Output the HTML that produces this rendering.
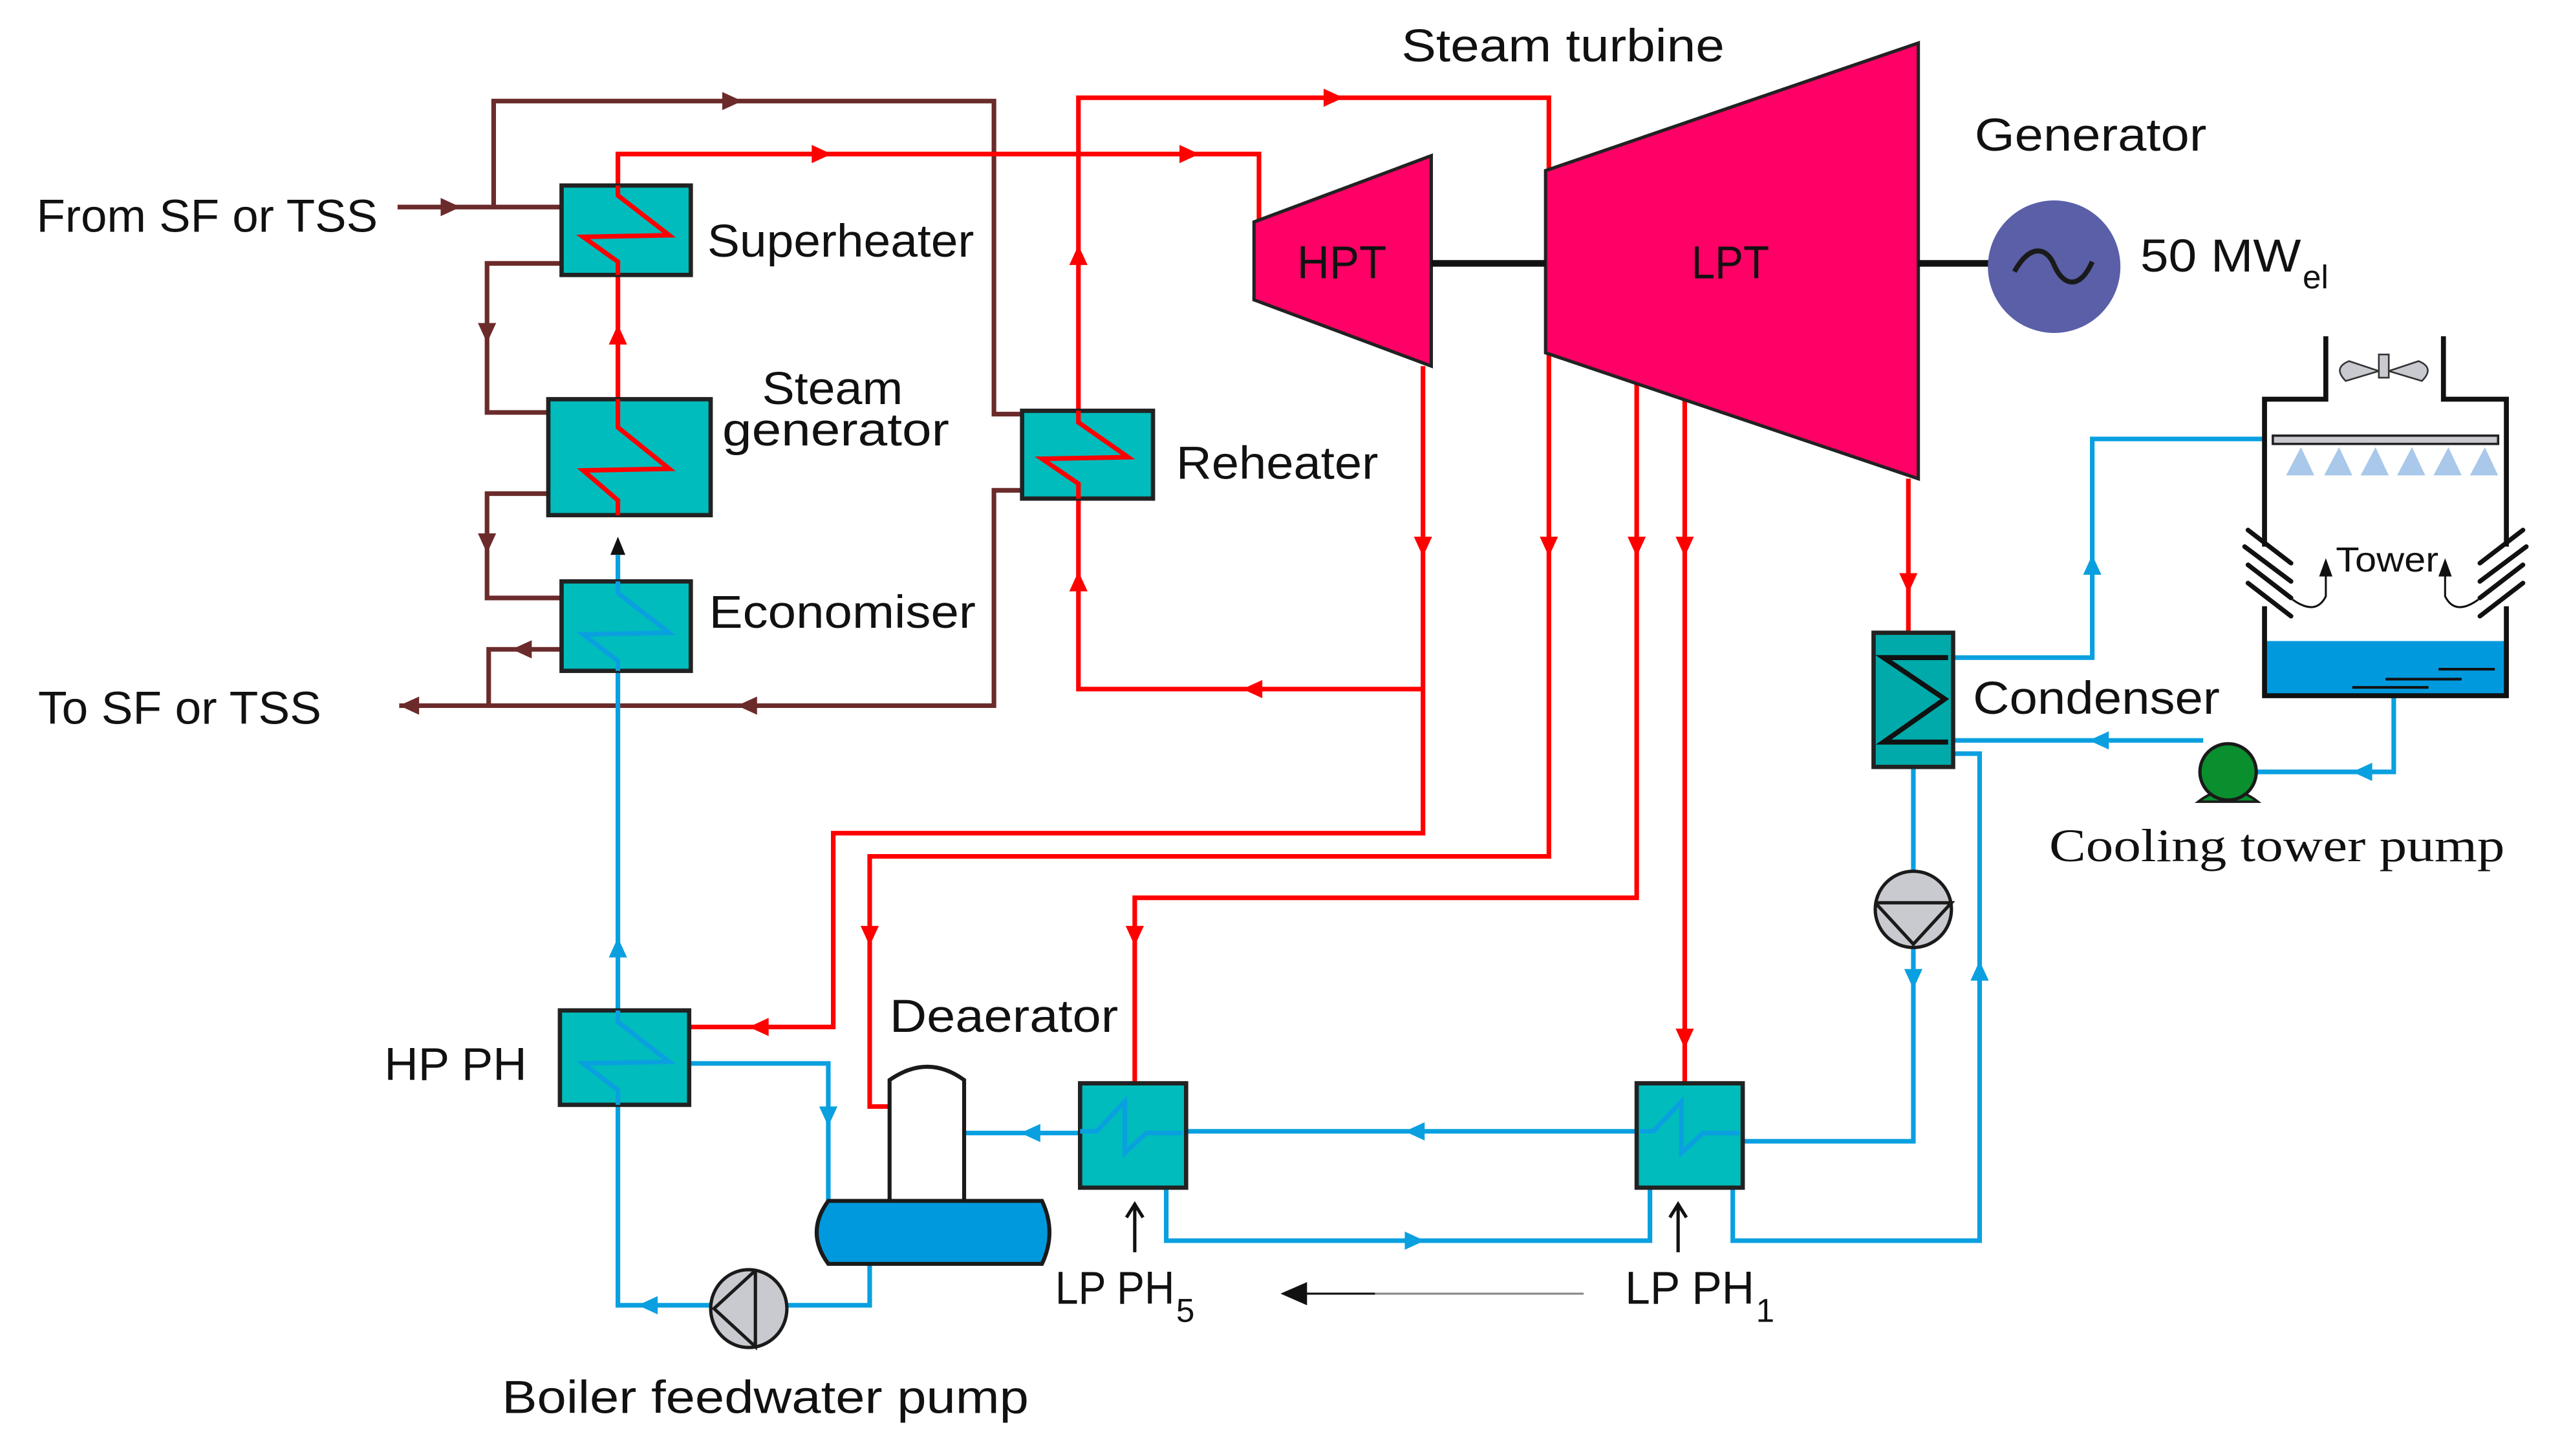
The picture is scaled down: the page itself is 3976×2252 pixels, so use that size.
<!DOCTYPE html>
<html><head><meta charset="utf-8"><style>
html,body{margin:0;padding:0;background:#fff;}
svg{display:block;}
text{font-family:"Liberation Sans",sans-serif;fill:#111;}
</style></head><body>
<svg width="3976" height="2252" viewBox="0 0 1552 879" preserveAspectRatio="none" xmlns="http://www.w3.org/2000/svg">
<defs>
<path id="ar" d="M0,0 L-12,-5.5 L-12,5.5 Z"/>
</defs>
<rect width="1552" height="879" fill="#fff"/>

<!-- BROWN lines -->
<g fill="none" stroke="#6b2b2b" stroke-width="2.8">
<polyline points="240,125 339,125"/>
<polyline points="298,125 298,61 600,61 600,250 617,250"/>
<polyline points="339,159 294,159 294,249 331,249"/>
<polyline points="331,298 294,298 294,361 339,361"/>
<polyline points="339,392 295,392 295,426"/>
<polyline points="617,296 600,296 600,426 241,426"/>
</g>
<g fill="#6b2b2b">
<use href="#ar" transform="translate(448,61)"/>
<use href="#ar" transform="translate(278,125)"/>
<use href="#ar" transform="translate(294,207) rotate(90)"/>
<use href="#ar" transform="translate(294,334) rotate(90)"/>
<use href="#ar" transform="translate(309,392) rotate(180)"/>
<use href="#ar" transform="translate(445,426) rotate(180)"/>
<use href="#ar" transform="translate(241,426) rotate(180)"/>
</g>

<!-- RED lines -->
<g fill="none" stroke="#ff0000" stroke-width="2.8">
<polyline points="373,112 373,93 760,93 760,134"/>
<polyline points="373,166 373,241"/>
<polyline points="651,248 651,59 935,59 935,517 525,517 525,668 537,668"/>
<polyline points="859,221 859,503 503,503 503,620 416,620"/>
<polyline points="859,416 651,416 651,301"/>
<polyline points="988,230 988,542 685,542 685,654"/>
<polyline points="1017,240 1017,654"/>
<polyline points="1152,289 1152,382"/>
</g>
<g fill="#ff0000">
<use href="#ar" transform="translate(502,93)"/>
<use href="#ar" transform="translate(724,93)"/>
<use href="#ar" transform="translate(373,196) rotate(-90)"/>
<use href="#ar" transform="translate(811,59)"/>
<use href="#ar" transform="translate(651,148) rotate(-90)"/>
<use href="#ar" transform="translate(651,345) rotate(-90)"/>
<use href="#ar" transform="translate(750,416) rotate(180)"/>
<use href="#ar" transform="translate(859,336) rotate(90)"/>
<use href="#ar" transform="translate(935,336) rotate(90)"/>
<use href="#ar" transform="translate(988,336) rotate(90)"/>
<use href="#ar" transform="translate(1017,336) rotate(90)"/>
<use href="#ar" transform="translate(1152,358) rotate(90)"/>
<use href="#ar" transform="translate(525,571) rotate(90)"/>
<use href="#ar" transform="translate(685,571) rotate(90)"/>
<use href="#ar" transform="translate(1017,633) rotate(90)"/>
<use href="#ar" transform="translate(452,620) rotate(180)"/>
</g>
<polygon points="373,324 368.5,335 377.5,335" fill="#111"/>

<!-- BLUE lines -->
<g fill="none" stroke="#0aa0e0" stroke-width="2.8">
<polyline points="373,335 373,351"/>
<polyline points="373,405 373,610"/>
<polyline points="373,667 373,788 429,788"/>
<polyline points="475,788 525,788 525,763"/>
<polyline points="416,642 500,642 500,725"/>
<polyline points="582,684 652,684"/>
<polyline points="716,683 988,683"/>
<polyline points="1052,689 1155,689 1155,572"/>
<polyline points="1155,526 1155,463"/>
<polyline points="704,717 704,749 996,749 996,717"/>
<polyline points="1046,717 1046,749 1195,749 1195,455 1179,455"/>
<polyline points="1179,397 1263,397 1263,265 1367,265"/>
<polyline points="1179,447 1330,447"/>
<polyline points="1360,466 1445,466 1445,420"/>
</g>
<g fill="#0aa0e0">
<use href="#ar" transform="translate(373,566) rotate(-90)"/>
<use href="#ar" transform="translate(385,788) rotate(180)"/>
<use href="#ar" transform="translate(500,680) rotate(90)"/>
<use href="#ar" transform="translate(616,684) rotate(180)"/>
<use href="#ar" transform="translate(848,683) rotate(180)"/>
<use href="#ar" transform="translate(860,749)"/>
<use href="#ar" transform="translate(1155,597) rotate(90)"/>
<use href="#ar" transform="translate(1195,580) rotate(-90)"/>
<use href="#ar" transform="translate(1263,335) rotate(-90)"/>
<use href="#ar" transform="translate(1261,447) rotate(180)"/>
<use href="#ar" transform="translate(1420,466) rotate(180)"/>
</g>

<!-- Heat exchanger boxes -->
<g stroke="#222" stroke-width="2.6" fill="#00bcbc">
<rect x="339" y="112" width="78" height="54"/>
<rect x="331" y="241" width="98" height="70"/>
<rect x="339" y="351" width="78" height="54"/>
<rect x="617" y="248" width="79" height="53"/>
<rect x="338" y="610" width="78" height="57"/>
<rect x="652" y="654" width="64" height="63"/>
<rect x="988" y="654" width="64" height="63"/>
<rect x="1131" y="382" width="48" height="81" fill="#00aaaa"/>
</g>
<g fill="none" stroke-width="2.8">
<polyline stroke="#ff0000" points="373,112 373,118 404,142 352,143 373,158 373,166"/>
<polyline stroke="#ff0000" points="373,241 373,258 404,283 352,284 373,302 373,311"/>
<polyline stroke="#0aa0e0" points="373,351 373,358 404,382 352,383 373,399 373,405"/>
<polyline stroke="#ff0000" points="651,248 651,255 681,276 629,277 651,292 651,301"/>
<polyline stroke="#0aa0e0" points="373,610 373,617 404,641 352,642 373,658 373,667"/>
<polyline stroke="#0aa0e0" points="652,683 662,683 679,665 679,696 692,684 714,684"/>
<polyline stroke="#0aa0e0" points="990,683 998,683 1015,665 1015,696 1028,684 1050,684"/>
<polyline stroke="#111" stroke-width="3" points="1176,397 1137,397 1174,422 1137,448 1176,448"/>
</g>

<!-- Turbines -->
<polygon points="757,134 864,94 864,221 757,181" fill="#ff0066" stroke="#222" stroke-width="2"/>
<polygon points="933,103 1158,26 1158,289 933,213" fill="#ff0066" stroke="#222" stroke-width="2"/>
<line x1="864" y1="159" x2="933" y2="159" stroke="#111" stroke-width="4"/>
<line x1="1158" y1="159" x2="1205" y2="159" stroke="#111" stroke-width="4"/>
<circle cx="1240" cy="161" r="40" fill="#5a5fa8"/>
<path d="M1216,164 C1226,146 1236,150 1240,160 C1245,172 1255,176 1263,158" fill="none" stroke="#1a1a1a" stroke-width="3"/>

<!-- Deaerator -->
<path d="M537,725 L537,652 Q560,636 582,652 L582,725" fill="#fff" stroke="#1a1a1a" stroke-width="2.4"/>
<path d="M500,725 L629,725 Q638,744 629,763 L500,763 Q486,744 500,725 Z" fill="#0099dd" stroke="#1a1a1a" stroke-width="2.4"/>

<!-- Feed pump -->
<ellipse cx="452" cy="790" rx="23" ry="23.5" fill="#c8cacf" stroke="#1a1a1a" stroke-width="2"/>
<polyline points="456,767 456,813 431,790 456,767" fill="none" stroke="#1a1a1a" stroke-width="2"/>
<!-- condensate pump -->
<circle cx="1155" cy="549" r="23" fill="#c8cacf" stroke="#1a1a1a" stroke-width="2"/>
<polyline points="1132,545 1178,545 1155,570 1132,545" fill="none" stroke="#1a1a1a" stroke-width="2"/>
<!-- cooling pump -->
<path d="M1327,484 Q1345,470 1363,484 Z" fill="#0a8f2e" stroke="#1a1a1a" stroke-width="1.5"/>
<circle cx="1345" cy="466" r="17" fill="#0a8f2e" stroke="#1a1a1a" stroke-width="2"/>

<!-- Cooling tower -->
<rect x="1367" y="387" width="146" height="33" fill="#0099dd"/>
<polyline points="1404,203 1404,241 1367,241 1367,420 1513,420 1513,241 1475,241 1475,203" fill="none" stroke="#111" stroke-width="3"/>
<rect x="1362" y="330" width="10" height="36" fill="#fff"/>
<rect x="1508" y="330" width="10" height="36" fill="#fff"/>
<g stroke="#111" stroke-width="1.6">
<line x1="1472" y1="404" x2="1506" y2="404"/>
<line x1="1440" y1="410" x2="1486" y2="410"/>
<line x1="1420" y1="415" x2="1466" y2="415"/>
</g>
<rect x="1372" y="263" width="136" height="5" fill="#c8cacf" stroke="#222" stroke-width="1.4"/>
<g fill="#a9c8ea">
<polygon points="1389,270 1380,287 1397,287"/>
<polygon points="1412,270 1403,287 1420,287"/>
<polygon points="1434,270 1425,287 1442,287"/>
<polygon points="1456,270 1447,287 1464,287"/>
<polygon points="1478,270 1469,287 1486,287"/>
<polygon points="1500,270 1491,287 1508,287"/>
</g>
<g fill="#c8cacf" stroke="#333" stroke-width="1">
<path d="M1436,224 L1418,218 Q1408,222 1416,230 Z"/>
<path d="M1442,224 L1460,218 Q1470,222 1462,230 Z"/>
<rect x="1436" y="214" width="6" height="14"/>
</g>
<g stroke="#111" stroke-width="2.8" stroke-linecap="round">
<line x1="1357" y1="320" x2="1383" y2="340"/>
<line x1="1355" y1="330" x2="1383" y2="351"/>
<line x1="1357" y1="341" x2="1383" y2="361"/>
<line x1="1357" y1="352" x2="1383" y2="372"/>
<line x1="1523" y1="320" x2="1497" y2="340"/>
<line x1="1525" y1="330" x2="1497" y2="351"/>
<line x1="1523" y1="341" x2="1497" y2="361"/>
<line x1="1523" y1="352" x2="1497" y2="372"/>
</g>
<g fill="none" stroke="#111" stroke-width="1.2">
<path d="M1384,362 Q1398,372 1404,360 L1404,343"/>
<path d="M1496,362 Q1482,372 1476,360 L1476,343"/>
</g>
<polygon points="1404,337 1400,348 1408,348" fill="#111"/>
<polygon points="1476,337 1472,348 1480,348" fill="#111"/>

<!-- black LP arrows -->
<g stroke="#111" stroke-width="2">
<line x1="685" y1="728" x2="685" y2="756"/>
<line x1="1013" y1="728" x2="1013" y2="756"/>
<polyline points="680,735 685,727 690,735" fill="none"/>
<polyline points="1008,735 1013,727 1018,735" fill="none"/>
</g>
<line x1="785" y1="781" x2="956" y2="781" stroke="#888" stroke-width="1.2"/>
<line x1="785" y1="781" x2="830" y2="781" stroke="#111" stroke-width="1.2"/>
<polygon points="773,781 789,774 789,788" fill="#111"/>

<!-- Texts -->
<g font-size="28">
<text x="22" y="140" textLength="206" lengthAdjust="spacingAndGlyphs">From SF or TSS</text>
<text x="23" y="437" textLength="171" lengthAdjust="spacingAndGlyphs">To SF or TSS</text>
<text x="427" y="155" textLength="161" lengthAdjust="spacingAndGlyphs">Superheater</text>
<text x="460" y="244" textLength="85" lengthAdjust="spacingAndGlyphs">Steam</text>
<text x="436" y="269" textLength="137" lengthAdjust="spacingAndGlyphs">generator</text>
<text x="428" y="379" textLength="161" lengthAdjust="spacingAndGlyphs">Economiser</text>
<text x="710" y="289" textLength="122" lengthAdjust="spacingAndGlyphs">Reheater</text>
<text x="846" y="37" textLength="195" lengthAdjust="spacingAndGlyphs">Steam turbine</text>
<text x="783" y="168" textLength="54" lengthAdjust="spacingAndGlyphs">HPT</text>
<text x="1021" y="168" textLength="47" lengthAdjust="spacingAndGlyphs">LPT</text>
<text x="1192" y="91" textLength="140" lengthAdjust="spacingAndGlyphs">Generator</text>
<text x="1292" y="164" textLength="97" lengthAdjust="spacingAndGlyphs">50 MW</text>
<text x="1191" y="431" textLength="149" lengthAdjust="spacingAndGlyphs">Condenser</text>
<text x="232" y="652" textLength="86" lengthAdjust="spacingAndGlyphs">HP PH</text>
<text x="537" y="623" textLength="138" lengthAdjust="spacingAndGlyphs">Deaerator</text>
<text x="303" y="853" textLength="318" lengthAdjust="spacingAndGlyphs">Boiler feedwater pump</text>
<text x="637" y="787" textLength="72" lengthAdjust="spacingAndGlyphs">LP PH</text>
<text x="981" y="787" textLength="78" lengthAdjust="spacingAndGlyphs">LP PH</text>
</g>
<text x="1390" y="174" font-size="20">el</text>
<text x="710" y="798" font-size="20">5</text>
<text x="1060" y="798" font-size="20">1</text>
<text x="1410" y="345" font-size="21" textLength="62" lengthAdjust="spacingAndGlyphs">Tower</text>
<text x="1237" y="520" font-size="28" style="font-family:'Liberation Serif',serif" textLength="275" lengthAdjust="spacingAndGlyphs">Cooling tower pump</text>
</svg>
</body></html>
